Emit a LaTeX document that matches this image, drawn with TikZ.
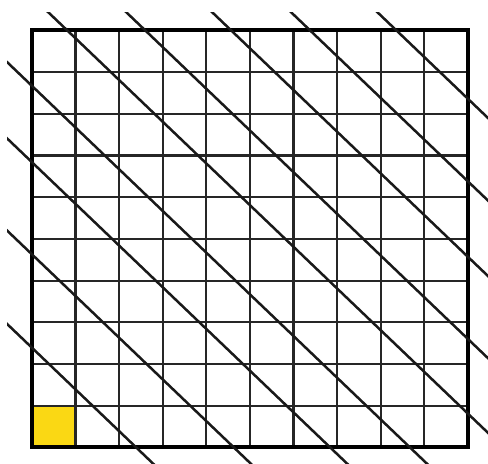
\documentclass[tikz,border=0pt]{standalone}
\usepackage{xcolor}
\usepackage{tikz}
\definecolor{cellyellow}{RGB}{250,216,20}

\begin{document}
\begin{tikzpicture}[
  x=21.8pt, y=20.85pt,
  gridline/.style={line width=1.1pt, draw=black!85},
  frameline/.style={line width=2pt, draw=black},
  diagline/.style={line width=1.25pt, draw=black!90},
  marked/.style={fill=cellyellow}
]
  \useasboundingbox (-0.734,-0.396) rectangle (10.459,10.731);

  % Yellow corner cell
  \fill[marked] (0,0) rectangle (1,1);

  % Square grid
  \foreach \i in {1,...,9} {
    \draw[gridline] (\i,0) -- (\i,10);
    \draw[gridline] (0,\i) -- (10,\i);
  }
  \draw[frameline] (0,0) rectangle (10,10);

  % Diagonal lines
  \begin{scope}
    \clip (-0.573,-0.396) rectangle (10.459,10.43);
    \foreach \c in {2.39,4.63,6.84,8.67,10.81,12.6,14.57,16.38,18.36}
      \draw[diagline] (\c-11,11) -- (\c+1,-1);
  \end{scope}
\end{tikzpicture}
\end{document}
